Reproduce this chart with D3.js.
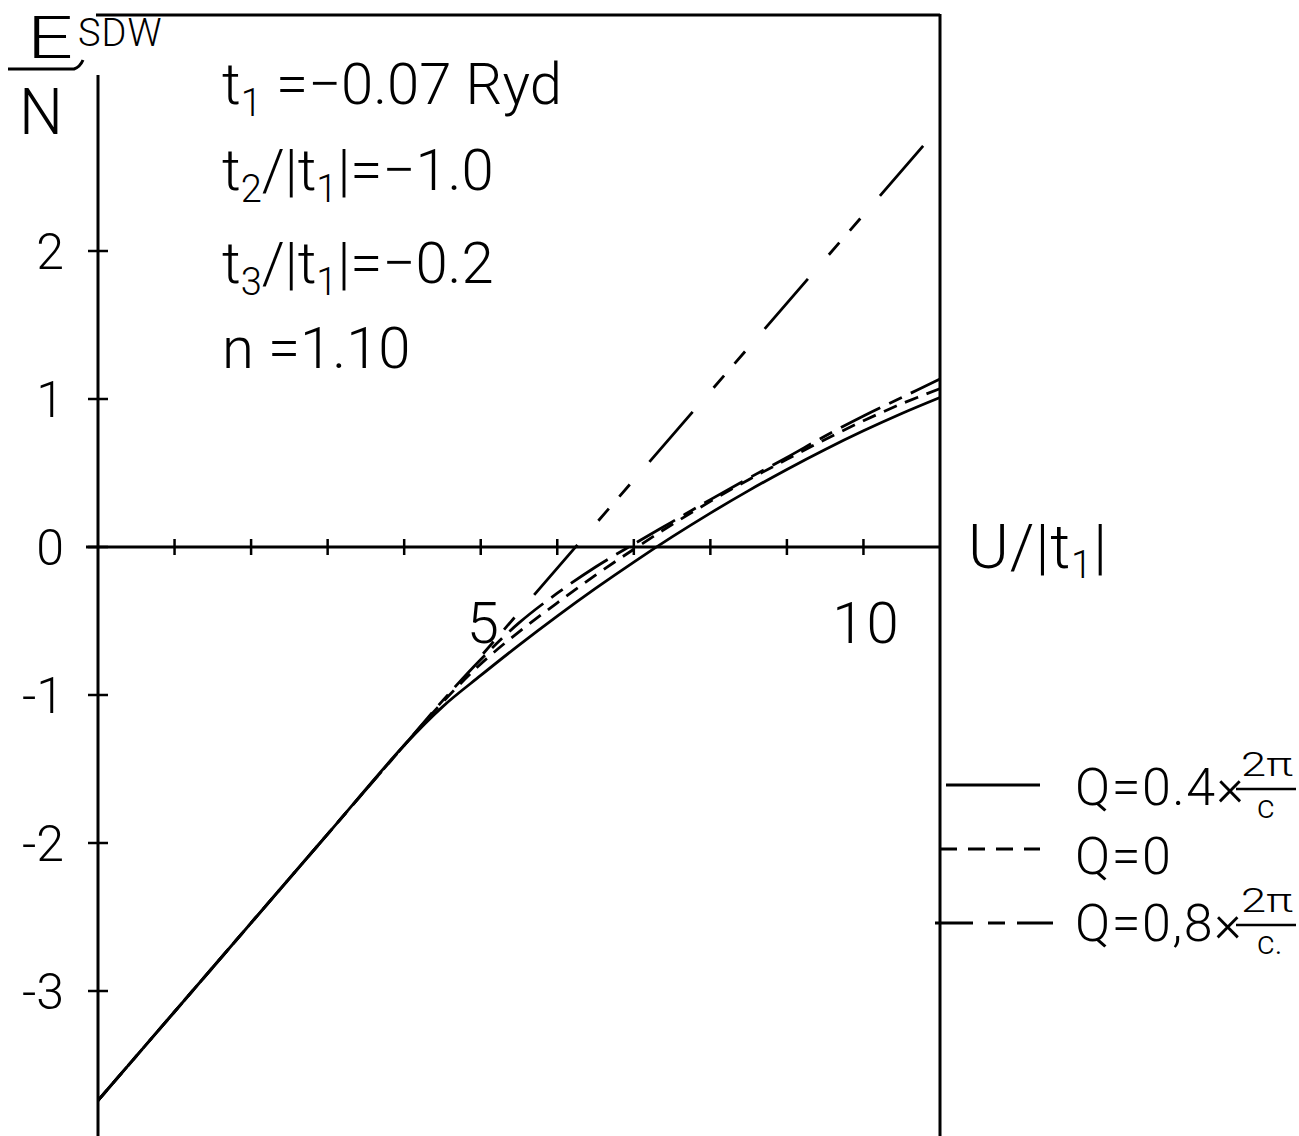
<!DOCTYPE html>
<html><head><meta charset="utf-8">
<script src="https://cdn.jsdelivr.net/npm/d3@7"></script>
<style>
html,body{margin:0;padding:0;background:#fff;}
svg{display:block;}
text{font-family:Roboto,"DejaVu Sans",sans-serif;font-weight:300;fill:#000;}
</style></head><body>
<svg id="chart" width="1299" height="1136"></svg>
<script>
// ---- data ----
const uValues = [0, 1, 2, 3, 4, 4.5, 5, 5.5, 6, 6.5, 7, 7.5, 8, 8.5, 9, 9.5, 10, 10.5, 11];
const eQ04 = [-3.74, -3.14, -2.54, -1.94, -1.34, -1.08, -0.868, -0.663, -0.467, -0.280, -0.102, 0.068, 0.229, 0.381, 0.524, 0.659, 0.785, 0.902, 1.01];
const eQ0  = [-3.74, -3.14, -2.54, -1.94, -1.34, -1.05, -0.79, -0.573, -0.377, -0.19, -0.015, 0.152, 0.308, 0.455, 0.592, 0.727, 0.853, 0.968, 1.07];
const eQ08 = [-3.74, -3.14, -2.54, -1.94, -1.34, -1.04, -0.76, -0.513, -0.312, -0.135, 0.02, 0.17, 0.32, 0.465, 0.605, 0.75, 0.885, 1.01, 1.135];
const branchU = [5.0, 10.78];
const branchE = [-0.74, 2.71];
const xTicks = [1, 2, 3, 4, 5, 6, 7, 8, 9, 10];
const xTickLabels = [5, 10];
const yTicks = [-3, -2, -1, 0, 1, 2];
const yTickLabels = ["-3", "-2", "-1", "0", "1", "2"];
const legendText = ["Q=0.4×", "Q=0", "Q=0,8×"];
const legendNum = ["2π", "", "2π"];
const legendDen = ["c", "", "c."];
const paramLines = [
  ["t", "1", " =−0.07 Ryd"],
  ["t", "2", "/|t", "1", "|=−1.0"],
  ["t", "3", "/|t", "1", "|=−0.2"],
  ["n =1.10"]
];

// ---- layout ----
const svg = d3.select("#chart");
const x = d3.scaleLinear().domain([0, 11]).range([98, 940]);
const y = d3.scaleLinear().domain([0, 1]).range([547, 399]);
const y0 = y(0);
const ink = "#000";

// frame
svg.append("line").attr("x1", x(0)).attr("x2", x(0)).attr("y1", 75).attr("y2", 1136)
  .attr("stroke", ink).attr("stroke-width", 3);
svg.append("line").attr("x1", 96).attr("x2", x(11)).attr("y1", 15).attr("y2", 15)
  .attr("stroke", ink).attr("stroke-width", 3);
svg.append("line").attr("x1", x(11)).attr("x2", x(11)).attr("y1", 14).attr("y2", 1136)
  .attr("stroke", ink).attr("stroke-width", 3);
svg.append("line").attr("x1", 86).attr("x2", x(11)).attr("y1", y0).attr("y2", y0)
  .attr("stroke", ink).attr("stroke-width", 3);

// x ticks
svg.selectAll(".xt").data(xTicks).join("line")
  .attr("x1", d => x(d)).attr("x2", d => x(d)).attr("y1", y0 - 8).attr("y2", y0 + 8)
  .attr("stroke", ink).attr("stroke-width", 2.5);
svg.selectAll(".xl").data(xTickLabels).join("text")
  .attr("x", d => x(d) + 3).attr("y", 643).attr("text-anchor", "middle")
  .attr("font-size", 58).attr("letter-spacing", 2).text(d => d);

// y ticks
svg.selectAll(".yt").data(yTicks).join("line")
  .attr("x1", x(0) - 10).attr("x2", x(0) + 10).attr("y1", d => y(d)).attr("y2", d => y(d))
  .attr("stroke", ink).attr("stroke-width", 2.5);
svg.selectAll(".yl").data(yTicks).join("text")
  .attr("x", 64).attr("y", d => y(d) + 18).attr("text-anchor", "end")
  .attr("font-size", 50).text((d, i) => yTickLabels[i]);

// axis titles
svg.append("text").attr("x", 968).attr("y", 568).attr("font-size", 62).attr("letter-spacing", 1)
  .call(t => { t.append("tspan").text("U/|t"); t.append("tspan").attr("font-size", 38).attr("dy", 10).text("1"); t.append("tspan").attr("dy", -10).text("|"); });
svg.append("text").attr("x", 27).attr("y", 58).attr("font-size", 60)
  .attr("textLength", 46).attr("lengthAdjust", "spacingAndGlyphs").text("E");
svg.append("text").attr("x", 78).attr("y", 46).attr("font-size", 38).attr("letter-spacing", 1).text("SDW");
svg.append("path").attr("d", "M8,69 L74,69 Q80,67 83,60").attr("fill", "none").attr("stroke", ink).attr("stroke-width", 3);
svg.append("text").attr("x", 19).attr("y", 134).attr("font-size", 64)
  .attr("textLength", 44).attr("lengthAdjust", "spacingAndGlyphs").text("N");

// parameter text
const paramBase = [104, 190, 283, 368];
paramLines.forEach((parts, i) => {
  const t = svg.append("text").attr("x", 222).attr("y", paramBase[i]).attr("font-size", 58);
  parts.forEach((p, j) => {
    const isSub = parts.length > 1 && (j === 1 || j === 3);
    const prevSub = parts.length > 1 && (j === 2 || j === 4);
    const ts = t.append("tspan").text(p);
    if (isSub) ts.attr("font-size", 38).attr("dy", 12);
    if (prevSub) ts.attr("dy", -12);
  });
});

// curves
const line = d3.line().x(d => x(d[0])).y(d => y(d[1])).curve(d3.curveCatmullRom.alpha(0.5));
const series = [
  {vals: eQ04, dash: null},
  {vals: eQ0, dash: "14,9"},
  {vals: eQ08, dash: "44,10,14,10"}
];
series.forEach(s => {
  svg.append("path").attr("d", line(uValues.map((u, i) => [u, s.vals[i]])))
    .attr("fill", "none").attr("stroke", ink).attr("stroke-width", 2.8)
    .attr("stroke-dasharray", s.dash);
});
// straight branch (long-short-short dashes)
const branchPath = svg.append("path").attr("d", d3.line().x(d => x(d[0])).y(d => y(d[1]))(branchU.map((u, i) => [u, branchE[i]])))
  .attr("fill", "none").attr("stroke", ink).attr("stroke-width", 2.8);
const pattern = [66, 32, 16, 16, 16, 30];
const period = d3.sum(pattern);
const total = branchPath.node().getTotalLength();
// align so that a long dash ends exactly at the upper end
branchPath.attr("stroke-dasharray", pattern.join(","))
  .attr("stroke-dashoffset", period - ((total - 66) % period));

// legend
const legendY = [785, 849, 923];
const legendDash = [null, "17,11", "38,15,17,12,40"];
const legendX1 = [946, 940, 935];
const legendX2 = [1040, 1040, 1053];
const textBase = [805, 874, 941];
legendText.forEach((lt, i) => {
  svg.append("line").attr("x1", legendX1[i]).attr("x2", legendX2[i]).attr("y1", legendY[i]).attr("y2", legendY[i])
    .attr("stroke", ink).attr("stroke-width", 2.8).attr("stroke-dasharray", legendDash[i]);
  svg.append("text").attr("x", 1075).attr("y", textBase[i]).attr("font-size", 52).attr("letter-spacing", 1.5).text(lt);
  if (legendNum[i]) {
    const fy = textBase[i] - 16;
    svg.append("text").attr("x", 1241).attr("y", fy - 13).attr("font-size", 34)
      .attr("textLength", 52).attr("lengthAdjust", "spacingAndGlyphs").text(legendNum[i]);
    svg.append("line").attr("x1", 1236).attr("x2", 1296).attr("y1", fy).attr("y2", fy).attr("stroke", ink).attr("stroke-width", 2.5);
    svg.append("text").attr("x", 1257).attr("y", fy + 29).attr("font-size", 34).text(legendDen[i]);
  }
});
</script>
</body></html>
